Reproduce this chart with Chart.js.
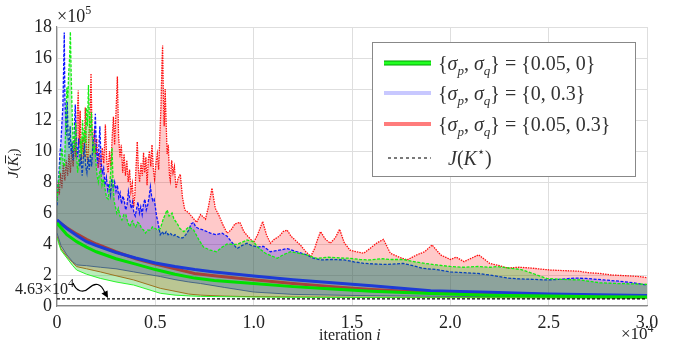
<!DOCTYPE html>
<html><head><meta charset="utf-8">
<script src="https://cdn.jsdelivr.net/npm/chart.js@4/dist/chart.umd.min.js"></script>
<style>html,body{margin:0;padding:0;background:#fff}#wrap{width:681px;height:348px}</style>
</head><body><div id="wrap"><canvas id="c" width="681" height="348"></canvas></div>
<script>
// ---- data (x: iteration, y: J in units of 1e5) ----
const xTicks = [0, 5000, 10000, 15000, 20000, 25000, 30000];
const yTicks = [0, 2, 4, 6, 8, 10, 12, 14, 16, 18];
const jStar = 0.463;

const redUpperX = [0,60,120,180,250,320,400,470,540,610,680,750,820,900,960,1020,1080,1130,1180,1240,1300,1370,1440,1500,1560,1620,1680,1730,1780,1840,1900,1960,2020,2090,2160,2230,2300,2380,2460,2530,2600,2670,2740,2810,2870,2930,3000,3070,3130,3200,3270,3340,3410,3480,3550,3620,3690,3760,3830,3900,3960,4020,4080,4140,4200,4270,4340,4400,4460,4520,4580,4640,4700,4770,4830,4900,4960,5030,5100,5170,5230,5290,5340,5370,5410,5450,5500,5550,5600,5660,5720,5760,5830,5900,5970,6050,6150,6270,6380,6500,6700,6900,7100,7300,7550,7700,7880,8050,8250,8450,8650,8850,9050,9300,9500,9700,10000,10200,10460,10650,10850,11050,11300,11500,11700,11900,12150,12400,12650,12900,13100,13250,13400,13650,13900,14150,14370,14600,14900,15200,15600,15900,16260,16600,16950,17400,17800,18300,18700,19070,19500,20000,20300,20700,21100,21440,22000,22500,22900,23500,24100,24600,25100,25800,26500,27000,27600,28200,29000,29600,30000];
const redUpperY = [6.8,8.0,7.2,8.6,7.6,9.2,8.1,9.4,8.4,9.8,8.6,10.2,9.0,10.8,9.6,12.0,13.9,10.4,12.6,9.4,10.8,9.6,12.8,10.0,9.2,11.0,12.2,15.0,11.2,10.0,11.4,9.8,10.8,8.9,9.9,8.6,10.2,9.2,11.7,9.4,8.6,10.0,9.0,11.0,12.2,10.4,12.5,14.8,11.0,9.6,10.4,8.6,9.8,8.4,9.4,8.0,8.8,7.4,7.9,6.4,7.2,9.0,10.6,8.8,8.0,9.2,8.4,9.9,8.6,9.6,7.8,9.4,10.0,9.0,10.4,8.8,8.2,9.2,9.8,8.8,11.0,13.0,15.8,16.8,13.5,11.6,14.0,11.8,9.8,10.4,8.4,8.1,9.4,8.6,9.0,7.6,8.2,8.5,7.0,6.2,6.0,5.7,5.4,5.9,5.6,6.4,7.6,6.3,5.8,5.2,4.7,4.9,5.3,5.4,4.8,4.5,4.1,4.6,5.45,4.6,4.05,4.3,4.5,4.8,4.9,4.5,4.2,3.9,3.5,3.2,3.7,4.3,4.8,4.3,4.05,4.4,4.95,4.1,3.6,3.5,3.4,3.7,4.06,4.3,3.4,3.15,2.97,3.3,3.5,3.94,3.3,3.0,3.15,2.86,3.1,3.3,2.75,2.6,2.45,2.5,2.45,2.38,2.32,2.28,2.25,2.15,2.1,2.0,1.95,1.9,1.83];

const blueUpperX = [0,50,100,150,200,250,300,340,370,400,440,480,520,570,620,670,720,770,820,870,930,980,1040,1100,1160,1220,1280,1340,1400,1460,1520,1580,1640,1700,1760,1830,1900,1950,2000,2060,2120,2180,2240,2300,2370,2440,2510,2580,2650,2720,2790,2860,2930,3000,3070,3140,3210,3280,3350,3420,3490,3560,3630,3700,3770,3840,3910,3980,4050,4120,4190,4260,4330,4400,4470,4540,4610,4680,4750,4810,4870,4940,5000,5060,5120,5190,5250,5350,5450,5550,5650,5760,5900,6000,6100,6250,6400,6550,6700,6820,6950,7050,7200,7450,7800,8100,8400,8650,8900,9150,9400,9660,9900,10200,10500,10850,11300,11700,12200,12700,13000,13400,14000,14600,15100,15600,16300,16800,17600,18100,18600,19300,20000,20700,21400,22000,22500,22900,23500,24200,24900,25600,26300,26900,27800,28600,29300,30000];
const blueUpperY = [6.5,7.8,8.6,9.8,10.6,11.8,12.9,15.5,17.65,13.5,12.2,11.0,13.2,10.8,10.2,11.6,9.8,10.6,9.4,11.0,13.0,10.4,9.6,10.8,9.0,9.8,8.4,9.6,10.5,9.0,8.6,9.6,8.8,9.8,9.0,10.6,11.0,12.4,10.2,9.2,10.0,11.6,9.4,8.6,8.9,7.8,8.3,7.5,7.9,7.2,8.2,7.6,8.0,7.4,7.8,7.0,7.3,6.6,7.1,6.8,6.2,6.5,7.4,6.9,6.3,6.7,6.0,5.8,6.3,6.7,6.0,6.4,5.9,6.6,6.9,6.2,6.5,7.0,7.7,7.1,6.8,6.9,6.4,5.8,5.5,5.0,4.6,4.8,4.6,4.8,4.6,4.7,4.5,4.6,4.5,4.4,4.4,4.6,4.9,5.3,5.4,5.1,5.0,4.9,4.7,4.6,4.7,4.5,4.1,3.7,3.9,4.05,3.9,3.8,3.85,3.5,3.6,3.7,3.5,3.3,3.1,2.97,3.0,2.97,2.85,2.75,2.7,2.68,2.75,2.6,2.43,2.35,2.2,2.15,2.1,2.0,1.9,1.8,1.75,1.72,1.68,1.72,1.8,1.78,1.68,1.6,1.5,1.35];

const greenUpperX = [0,60,120,180,250,320,380,440,500,550,590,640,680,720,760,800,850,900,950,1000,1050,1100,1150,1200,1250,1300,1350,1400,1450,1500,1550,1600,1650,1700,1750,1800,1860,1920,1980,2040,2100,2160,2220,2290,2360,2450,2520,2600,2680,2750,2800,2850,2900,2970,3040,3120,3200,3300,3400,3500,3600,3700,3780,3850,3930,4000,4100,4200,4300,4400,4500,4600,4750,4850,5000,5120,5250,5330,5400,5500,5600,5700,5850,5950,6100,6250,6450,6700,6950,7200,7450,7800,8100,8400,8650,9150,9660,10000,10200,10600,11200,11500,11870,12300,12700,13200,13800,14400,14900,15400,15900,16500,17000,17600,18200,18700,19300,20000,20700,21400,22000,22400,23000,23600,24200,24900,25600,26600,27600,28500,30000];
const greenUpperY = [6.8,7.8,8.5,9.4,10.2,9.2,9.0,11.5,14.1,13.4,14.9,16.0,17.7,15.0,13.0,11.2,10.0,11.0,11.8,9.6,8.6,9.4,9.5,10.8,9.8,12.0,10.6,11.4,10.5,12.8,11.6,14.25,12.0,11.0,12.5,11.0,10.0,10.3,9.2,8.4,8.0,8.6,8.8,7.8,8.2,7.5,7.0,6.9,7.8,9.0,10.2,8.0,6.8,6.4,6.0,6.3,5.8,5.55,5.9,5.9,5.4,5.1,5.4,5.5,5.2,5.1,5.4,5.3,5.0,4.9,4.7,4.9,4.9,5.1,5.0,4.9,5.0,5.3,5.6,5.9,6.2,5.8,6.0,5.6,5.35,5.0,4.8,5.1,4.9,4.3,3.8,3.6,3.5,3.8,4.0,3.97,4.26,4.15,3.8,3.4,3.08,3.3,3.5,3.4,3.3,3.08,3.15,3.1,3.08,3.0,2.97,3.05,3.0,3.0,2.85,2.75,2.65,2.55,2.5,2.55,2.5,2.54,2.45,2.35,2.1,1.78,1.72,1.68,1.5,1.45,1.4];

const meanX = [0,500,1000,1500,2000,3000,4000,5000,6000,7000,8000,10000,12000,14000,16000,19000,22000,25000,27500,30000];
const blueMeanY  = [5.55,5.0,4.55,4.15,3.9,3.45,3.1,2.78,2.55,2.35,2.2,1.94,1.7,1.5,1.3,0.99,0.88,0.78,0.72,0.67];
const redMeanY   = [5.5,5.05,4.65,4.3,4.0,3.5,3.05,2.7,2.4,2.1,1.95,1.7,1.45,1.25,1.07,0.87,0.75,0.68,0.63,0.6];
const greenMeanY = [5.35,4.6,4.15,3.8,3.5,3.05,2.7,2.35,2.05,1.8,1.65,1.45,1.25,1.1,0.95,0.8,0.7,0.64,0.6,0.58];

const lowerX = [0,200,500,800,1000,1500,2200,3000,3900,5250,6000,6700,7300,8500,10000,12000,15000,20000,30000];
const blueLowerY  = [4.7,3.9,3.3,2.85,2.65,2.6,2.5,2.4,2.2,1.9,1.7,1.55,1.45,1.2,0.9,0.75,0.68,0.62,0.58];
const redLowerY   = [4.5,3.7,3.2,2.8,2.54,2.4,2.2,1.95,1.68,1.14,0.95,0.77,0.7,0.64,0.6,0.58,0.56,0.55,0.52];
const greenLowerY = [4.4,3.6,3.1,2.6,2.32,2.05,1.78,1.55,1.35,0.82,0.7,0.65,0.62,0.6,0.58,0.56,0.55,0.54,0.52];

// ---- helpers ----
const pts = (xs, ys) => xs.map((x, i) => ({x, y: ys[i]}));
const SERIF = '"Liberation Serif", "DejaVu Serif", serif';

const base = {pointRadius: 0, tension: 0, fill: false};
const datasets = [
  {...base, label: 'J*', data: [{x: 0, y: jStar}, {x: 30000, y: jStar}], borderColor: '#000', borderWidth: 1.3, borderDash: [3, 2]},
  {...base, label: 'greenMean', data: pts(meanX, greenMeanY), borderColor: '#00e000', borderWidth: 3},
  {...base, label: 'blueMean', data: pts(meanX, blueMeanY), borderColor: '#1d3bd6', borderWidth: 3},
  {...base, label: 'redMean', data: pts(meanX, redMeanY), borderColor: '#a8413a', borderWidth: 3},
  {...base, label: 'greenUpper', data: pts(greenUpperX, greenUpperY), borderColor: '#11ee11', borderWidth: 1.3, borderDash: [3, 1.5], fill: 7, backgroundColor: 'rgba(0,190,0,0.27)'},
  {...base, label: 'blueUpper', data: pts(blueUpperX, blueUpperY), borderColor: '#0a14ff', borderWidth: 1.3, borderDash: [3, 1.5], fill: 8, backgroundColor: 'rgba(0,0,255,0.24)'},
  {...base, label: 'redUpper', data: pts(redUpperX, redUpperY), borderColor: '#ff1010', borderWidth: 1.3, borderDash: [1.5, 1], fill: 9, backgroundColor: 'rgba(255,0,0,0.21)'},
  {...base, label: 'greenLower', data: pts(lowerX, greenLowerY), borderColor: '#33ff33', borderWidth: 1},
  {...base, label: 'blueLower', data: pts(lowerX, blueLowerY), borderColor: '#4a6ad8', borderWidth: 1},
  {...base, label: 'redLower', data: pts(lowerX, redLowerY), borderColor: '#d0622e', borderWidth: 1},
];

function drawRich(ctx, x, y, parts) {
  let cx = x;
  for (const [t, f, dy] of parts) {
    ctx.font = f;
    ctx.fillText(t, cx, y + (dy || 0));
    cx += ctx.measureText(t).width;
  }
  return cx;
}

const overlay = {
  id: 'overlay',
  afterDraw(chart) {
    const ctx = chart.ctx;
    ctx.save();
    ctx.fillStyle = '#222';
    ctx.textBaseline = 'alphabetic';
    ctx.textAlign = 'left';
    const s = `12px ${SERIF}`;
    drawRich(ctx, 57, 22, [['\u00d710', `18px ${SERIF}`], ['5', s, -8]]);
    drawRich(ctx, 621, 339, [['\u00d710', `17px ${SERIF}`], ['4', s, -7]]);
    drawRich(ctx, 319, 340, [['iteration ', `16px ${SERIF}`], ['i', `italic 16px ${SERIF}`]]);
    // y title rotated
    ctx.save();
    ctx.translate(18, 178);
    ctx.rotate(-Math.PI / 2);
    const it = `italic 15px ${SERIF}`;
    let px = drawRich(ctx, 0, 0, [['J', it], ['(', `15px ${SERIF}`]]);
    ctx.font = it;
    const kw = ctx.measureText('K').width;
    ctx.fillText('K', px, 0);
    ctx.fillRect(px + 3, -13, kw - 2, 1);
    px += kw;
    drawRich(ctx, px, 0, [['i', `italic 10px ${SERIF}`, 3], [')', `15px ${SERIF}`]]);
    ctx.restore();
    // annotation
    drawRich(ctx, 15, 294, [['4.63\u00d710', `16px ${SERIF}`], ['4', s, -7]]);
    ctx.strokeStyle = '#000';
    ctx.lineWidth = 1.2;
    ctx.beginPath();
    ctx.moveTo(73, 283);
    ctx.bezierCurveTo(76, 291, 83, 294, 89, 288);
    ctx.bezierCurveTo(95, 282, 101, 283, 105, 293);
    ctx.stroke();
    ctx.fillStyle = '#000';
    ctx.beginPath();
    ctx.moveTo(108, 298);
    ctx.lineTo(101.5, 293.5);
    ctx.lineTo(107.5, 290.5);
    ctx.closePath();
    ctx.fill();

    // legend
    const L = 372, T = 42, R = 635, B = 176;
    ctx.fillStyle = '#fff';
    ctx.fillRect(L, T, R - L, B - T);
    ctx.strokeStyle = '#888';
    ctx.lineWidth = 1;
    ctx.strokeRect(L + 0.5, T + 0.5, R - L, B - T);
    const rows = [63, 93, 124, 158];
    ctx.lineCap = 'butt';
    ctx.strokeStyle = '#00a000'; ctx.lineWidth = 5;
    ctx.beginPath(); ctx.moveTo(384, rows[0]); ctx.lineTo(431, rows[0]); ctx.stroke();
    ctx.strokeStyle = '#22ff22'; ctx.lineWidth = 3;
    ctx.beginPath(); ctx.moveTo(384, rows[0]); ctx.lineTo(431, rows[0]); ctx.stroke();
    ctx.strokeStyle = '#c8c8ff'; ctx.lineWidth = 4;
    ctx.beginPath(); ctx.moveTo(384, rows[1]); ctx.lineTo(431, rows[1]); ctx.stroke();
    ctx.strokeStyle = '#ff7c7c'; ctx.lineWidth = 4;
    ctx.beginPath(); ctx.moveTo(384, rows[2]); ctx.lineTo(431, rows[2]); ctx.stroke();
    ctx.strokeStyle = '#222'; ctx.lineWidth = 1.2; ctx.setLineDash([3, 3]);
    ctx.beginPath(); ctx.moveTo(388, rows[3]); ctx.lineTo(431, rows[3]); ctx.stroke();
    ctx.setLineDash([]);
    ctx.fillStyle = '#333';
    const lf = `20px ${SERIF}`, li = `italic 20px ${SERIF}`, ls = `italic 13px ${SERIF}`;
    const rhs = ['{0.05, 0}', '{0, 0.3}', '{0.05, 0.3}'];
    for (let k = 0; k < 3; k++) {
      drawRich(ctx, 438, rows[k] + 7, [['{', lf], ['\u03c3', li], ['p', ls, 5], [', ', lf], ['\u03c3', li], ['q', ls, 5], ['} = ' + rhs[k], lf]]);
    }
    drawRich(ctx, 448, rows[3] + 7, [['J', li], ['(', lf], ['K', li], ['\u22c6', `13px ${SERIF}`, -9], [')', lf]]);
    ctx.restore();
  }
};

new Chart(document.getElementById('c'), {
  type: 'line',
  data: {datasets},
  options: {
    responsive: false,
    devicePixelRatio: 1,
    animation: false,
    events: [],
    layout: {padding: {left: 0, right: 34, top: 27, bottom: 0}},
    plugins: {legend: {display: false}, tooltip: {enabled: false}, filler: {propagate: false}},
    scales: {
      x: {
        type: 'linear', min: 0, max: 30000,
        afterBuildTicks: sc => { sc.ticks = xTicks.map(v => ({value: v})); },
        afterFit: sc => { sc.height = 42; },
        grid: {color: '#dedede', lineWidth: 1, drawTicks: false},
        border: {color: '#888', width: 1.2},
        ticks: {padding: 6, color: '#222', font: {family: SERIF, size: 18}, maxRotation: 0,
          callback: v => v === 0 ? '0' : (v / 1e4).toFixed(1)}
      },
      y: {
        type: 'linear', min: 0, max: 18,
        afterBuildTicks: sc => { sc.ticks = yTicks.map(v => ({value: v})); },
        afterFit: sc => { sc.width = 57; },
        grid: {color: '#dedede', lineWidth: 1, drawTicks: false},
        border: {color: '#888', width: 1.2},
        ticks: {padding: 5, color: '#222', font: {family: SERIF, size: 18}, callback: v => String(v)}
      }
    }
  },
  plugins: [overlay]
});
</script></body></html>
